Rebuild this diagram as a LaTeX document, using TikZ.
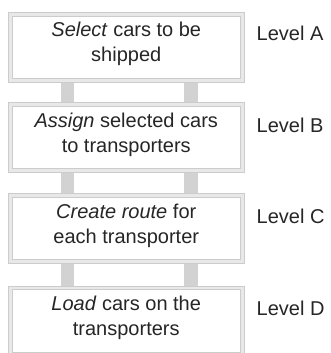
\documentclass[tikz,border=0pt]{standalone}
\usepackage{fontspec}
\setmainfont{Liberation Sans}
\usetikzlibrary{backgrounds}
\tikzset{
  levelbox/.style={draw=gray!40, line width=1pt, double=gray!18, double distance=2.7pt,
    fill=white, minimum width=232pt, minimum height=66pt, inner sep=0pt, outer sep=0pt},
  boxtext/.style={anchor=base, align=center, inner sep=0pt, text=black!85,
    font=\fontsize{20}{25}\selectfont},
  leveltext/.style={anchor=base west, inner sep=0pt, text=black!85,
    font=\fontsize{20}{24}\selectfont},
  pillar/.style={fill=gray!35}
}
\begin{document}
\begin{tikzpicture}[x=1pt,y=1pt]
\useasboundingbox (0,0) rectangle (331,-353);
% boxes
\node[levelbox] (b1) at (126.25,-47.35) {};
\node[levelbox] (b2) at (126.25,-137.65) {};
\node[levelbox] (b3) at (126.25,-228.65) {};
\node[levelbox] (b4) at (126.25,-321.05) {};
% texts (base anchor = last line's baseline)
\node[boxtext] (t1) at (126.25,-61.7) {\textit{Select} cars to be\\shipped};
\node[boxtext] (t2) at (126.25,-152.3) {\textit{Assign} selected cars\\to transporters};
\node[boxtext] (t3) at (126.25,-243.2) {\textit{Create route} for\\each transporter};
\node[boxtext] (t4) at (126.25,-335.4) {\textit{Load} cars on the\\transporters};
% level labels
\node[leveltext] (la) at (256.5,-40.7) {Level A};
\node[leveltext] (lb) at (256.5,-132.2) {Level B};
\node[leveltext] (lc) at (256.5,-223.0) {Level C};
\node[leveltext] (ld) at (256.5,-315.0) {Level D};
% pillars
\begin{scope}[on background layer]
\foreach \a/\b in {b1/b2,b2/b3,b3/b4}{
  \fill[pillar] ([xshift=-65.25pt]\a.center) rectangle ([xshift=-51.95pt]\b.center);
  \fill[pillar] ([xshift=58.05pt]\a.center) rectangle ([xshift=71.45pt]\b.center);
}
\end{scope}
\end{tikzpicture}
\end{document}
